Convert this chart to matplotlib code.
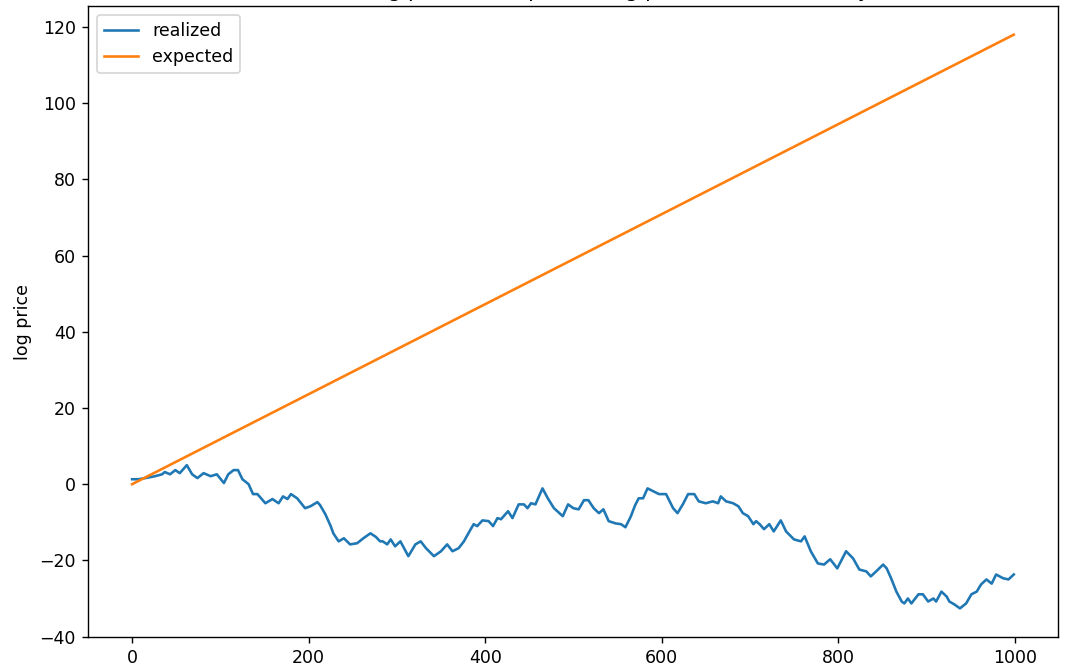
import matplotlib
matplotlib.use("Agg")
import matplotlib.pyplot as plt

# realized log price path
realized_t = [0, 7, 15, 26, 34, 37, 43, 49, 54, 62, 68, 74, 81, 89, 96, 104, 109, 115, 120, 125,
              132, 137, 142, 151, 159, 166, 171, 176, 180, 187, 196, 202, 210, 213, 219, 225, 228,
              234, 240, 247, 255, 262, 270, 276, 281, 284, 289, 293, 298, 304, 313, 321, 327, 333,
              342, 350, 357, 363, 370, 376, 381, 387, 391, 397, 404, 409, 414, 418, 426, 431, 438,
              444, 448, 452, 457, 465, 471, 478, 488, 494, 500, 506, 512, 517, 523, 529, 534, 540,
              548, 554, 559, 565, 570, 574, 579, 584, 590, 597, 605, 613, 618, 624, 630, 637, 642,
              650, 658, 664, 667, 673, 681, 687, 692, 698, 704, 707, 711, 716, 722, 727, 735, 741,
              750, 758, 762, 769, 777, 784, 791, 799, 809, 817, 824, 832, 837, 843, 851, 855, 860,
              866, 872, 875, 879, 883, 891, 896, 902, 908, 911, 917, 923, 926, 932, 938, 945, 951,
              957, 962, 968, 974, 979, 987, 993, 999]
realized_v = [1.3, 1.3, 1.6, 2.1, 2.6, 3.2, 2.6, 3.7, 2.9, 5.0, 2.6, 1.6, 2.9, 2.1, 2.6, 0.3, 2.6,
              3.7, 3.7, 1.3, 0.0, -2.6, -2.6, -5.0, -3.9, -5.0, -3.2, -3.9, -2.6, -3.7, -6.3, -5.8,
              -4.7, -5.5, -7.9, -11.0, -12.9, -15.0, -14.2, -15.8, -15.5, -14.2, -12.9, -13.8,
              -15.0, -15.0, -15.8, -14.5, -16.3, -15.0, -18.9, -15.8, -15.0, -16.8, -18.9, -17.6,
              -15.8, -17.6, -16.8, -15.0, -12.9, -10.5, -11.0, -9.5, -9.7, -11.0, -8.9, -9.2, -7.1,
              -8.9, -5.3, -5.3, -6.3, -5.0, -5.3, -1.1, -3.7, -6.3, -8.4, -5.3, -6.3, -6.6, -4.2,
              -4.2, -6.3, -7.6, -6.6, -9.7, -10.3, -10.5, -11.3, -8.5, -5.5, -3.7, -3.7, -1.1,
              -1.8, -2.6, -2.6, -6.3, -7.6, -5.3, -2.6, -2.6, -4.5, -5.0, -4.5, -5.0, -3.2, -4.5,
              -5.0, -5.8, -7.6, -8.4, -10.5, -9.7, -10.5, -11.8, -10.5, -12.4, -9.5, -12.4, -14.5,
              -15.0, -13.7, -17.6, -20.8, -21.1, -19.7, -22.1, -17.6, -19.5, -22.4, -22.9, -24.2,
              -22.9, -21.1, -22.1, -24.7, -28.2, -30.8, -31.3, -30.0, -31.3, -28.9, -28.9, -30.8,
              -30.0, -30.8, -28.2, -29.5, -30.8, -31.6, -32.6, -31.3, -28.9, -28.2, -26.3, -25.0,
              -26.1, -23.7, -24.7, -25.0, -23.7]

# expected log price: straight line from start to end
expected_t = [0, 999]
expected_v = [0.0, 118.0]

fig = plt.figure(figsize=(8.64, 5.32), dpi=125)
ax = fig.add_axes([0.0815, 0.042, 0.898, 0.949])

ax.plot(realized_t, realized_v, label='realized')
ax.plot(expected_t, expected_v, label='expected')
ax.set_ylabel('log price')
# title sits mostly above the top edge, as in the reference
ax.set_title('Realized log price vs. expected log price, simulated daily', pad=5)
ax.legend(loc='upper left')

fig.savefig('out.png', dpi=125)
